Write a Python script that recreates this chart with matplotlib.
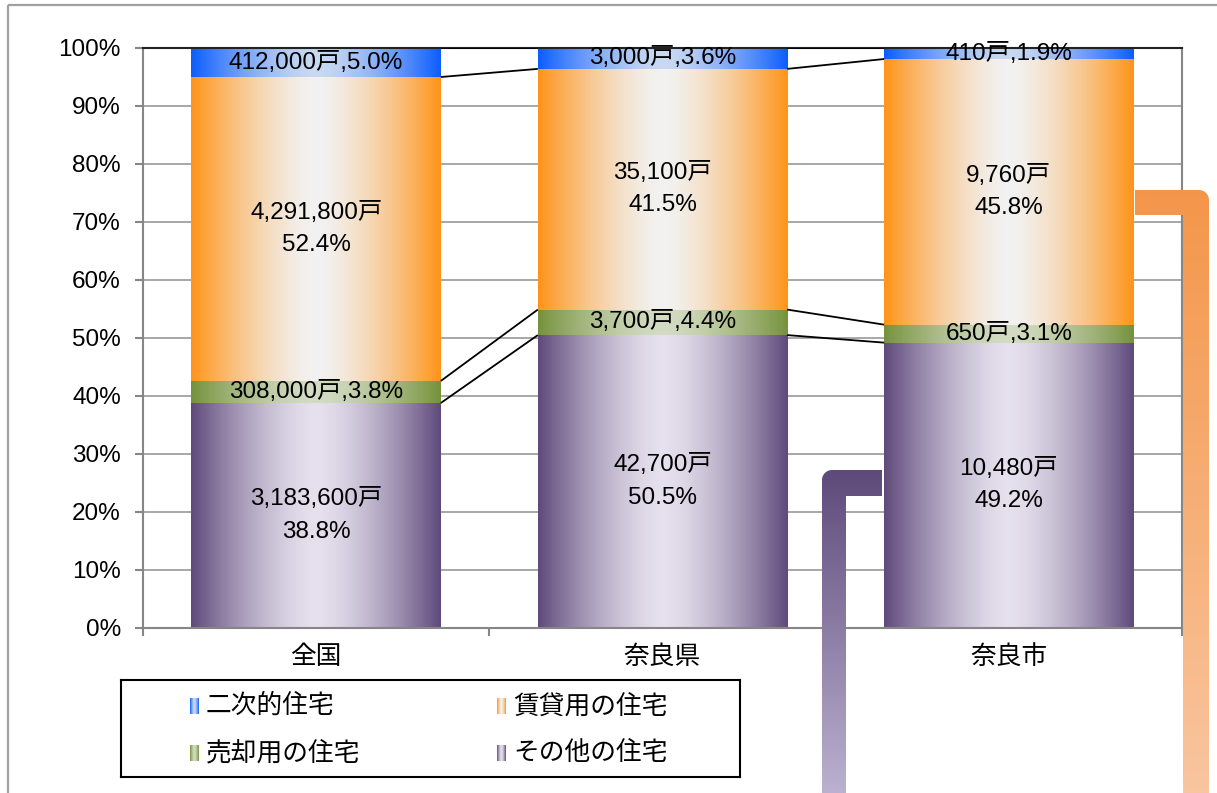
import numpy as np
import matplotlib.pyplot as plt
from matplotlib.path import Path
from matplotlib.patches import PathPatch, Rectangle
from matplotlib.colors import to_rgb

plt.rcParams['font.family'] = ['Liberation Sans', 'Noto Sans CJK JP']
plt.rcParams['font.size'] = 17.5

# data (stacked bottom -> top)
regions = ['全国', '奈良県', '奈良市']
other_units = [3183600, 42700, 10480]
other_pct = [38.8, 50.5, 49.2]
sale_units = [308000, 3700, 650]
sale_pct = [3.8, 4.4, 3.1]
rent_units = [4291800, 35100, 9760]
rent_pct = [52.4, 41.5, 45.8]
second_units = [412000, 3000, 410]
second_pct = [5.0, 3.6, 1.9]

series_names = ['その他の住宅', '売却用の住宅', '賃貸用の住宅', '二次的住宅']
series_units = [other_units, sale_units, rent_units, second_units]
series_pct = [other_pct, sale_pct, rent_pct, second_pct]
two_line = [True, False, True, False]
# (edge colour, centre colour) of the horizontal gradient fill
series_cols = [('#5f4a7b', '#e6e1ee'),
               ('#76923c', '#d3dcc3'),
               ('#ff9418', '#f2f2f2'),
               ('#0c5dff', '#c9d9f1')]


def hgrad(edge, center, n=256, p=1.5):
    u = np.linspace(0, 1, n)
    d = np.abs(2 * u - 1) ** p
    e, c = np.array(to_rgb(edge)), np.array(to_rgb(center))
    return (c + (e - c) * d[:, None])[None, :, :]


def vgrad(top, bottom, n=256):
    t = np.linspace(0, 1, n)[:, None]
    a, b = np.array(to_rgb(top)), np.array(to_rgb(bottom))
    return (a + (b - a) * t)[:, None, :]


W, H = 1217, 793
fig = plt.figure(figsize=(W / 100, H / 100), dpi=100)
ax = fig.add_axes([143 / W, 1 - 628 / H, (1182 - 143) / W, (628 - 48) / H])

w = 0.72
x = np.arange(len(regions))
bottoms = np.zeros(len(regions))
tops = []
for units, pct, (edge, center), tl in zip(series_units, series_pct, series_cols, two_line):
    img = hgrad(edge, center)
    for i in x:
        b, h = bottoms[i], pct[i]
        ax.imshow(img, extent=(i - w / 2, i + w / 2, b, b + h), aspect='auto',
                  interpolation='bilinear', zorder=2)
        sep = '\n' if tl else ','
        ax.text(i, b + h / 2, f'{units[i]:,}戸{sep}{pct[i]:.1f}%', ha='center', va='center',
                linespacing=1.6, zorder=4)
    bottoms = bottoms + np.array(pct)
    tops.append(bottoms.copy())

# series lines between neighbouring bars
for lvl in tops:
    for i in range(len(regions) - 1):
        ax.plot([i + w / 2, i + 1 - w / 2], [lvl[i], lvl[i + 1]], color='black', lw=1.3,
                zorder=3, solid_capstyle='butt')

ax.set_xlim(-0.5, len(regions) - 0.5)
ax.set_ylim(0, 100)
ax.set_yticks(np.arange(0, 101, 10))
ax.set_yticklabels([f'{v}%' for v in range(0, 101, 10)])
ax.set_xticks(x)
ax.set_xticklabels(regions, fontsize=18.5)
ax.set_xticks(np.arange(-0.5, len(regions), 1), minor=True)
ax.tick_params(axis='x', which='major', length=0, pad=12)
ax.tick_params(axis='x', which='minor', length=6, width=1.5, color='#868686')
ax.tick_params(axis='y', length=6, width=1.5, color='#868686', pad=10)
ax.grid(axis='y', color='#a0a0a0', lw=1.3)
ax.set_axisbelow(True)
for s in ['left', 'bottom', 'right']:
    ax.spines[s].set_color('#868686')
    ax.spines[s].set_linewidth(1.5)
ax.spines['top'].set_color('#222222')
ax.spines['top'].set_linewidth(1.5)

# legend box
lax = fig.add_axes([121 / W, 1 - 777 / H, (740 - 121) / W, (777 - 680) / H])
lax.set_xticks([])
lax.set_yticks([])
for s in lax.spines.values():
    s.set_color('black')
    s.set_linewidth(1.5)
leg_order = [3, 2, 1, 0]
leg_pos = [(69, 26), (376, 26), (69, 73), (376, 73)]
for k, (lx, ly) in zip(leg_order, leg_pos):
    edge, center = series_cols[k]
    lax.imshow(hgrad(edge, center), extent=(lx, lx + 9, ly + 8, ly - 8), aspect='auto',
               interpolation='bilinear')
    lax.text(lx + 16, ly, series_names[k], ha='left', va='center', fontsize=18.5)
lax.set_xlim(0, 619)
lax.set_ylim(97, 0)

# frame and decorative brackets
ov = fig.add_axes([0, 0, 1, 1], zorder=10)
ov.axis('off')
ov.patch.set_alpha(0)
ov.add_patch(Rectangle((8, 5), 1400, 1000, fill=False, ec='#a0a0a0', lw=1.6))


def bracket(pts, corner, r, top_col, bot_col, y0, y1, x0, x1):
    cx, cy, a0 = corner
    ang = np.linspace(a0, a0 + np.pi / 2, 12)
    arc = np.column_stack([cx + r * np.cos(ang), cy + r * np.sin(ang)])
    verts = np.vstack([pts[0], arc, pts[1:]])
    path = Path(np.vstack([verts, verts[:1]]), closed=True)
    clip = PathPatch(path, transform=ov.transData, fc='none', ec='none')
    ov.add_patch(clip)
    im = ov.imshow(vgrad(top_col, bot_col), extent=(x0, x1, y1, y0), aspect='auto',
                   interpolation='bilinear')
    im.set_clip_path(clip)


r = 10
bracket(np.array([[822, 800], [882, 470], [882, 496], [846, 496], [846, 800]]),
        (822 + r, 470 + r, np.pi), r, '#5e4a7a', '#bdb3d2', 470, 800, 822, 882)
bracket(np.array([[1135, 190], [1209, 800], [1183, 800], [1183, 215], [1135, 215]]),
        (1209 - r, 190 + r, -np.pi / 2), r, '#f4964a', '#f9c6a0', 190, 800, 1135, 1209)
ov.set_xlim(0, W)
ov.set_ylim(H, 0)

fig.savefig('out.png', dpi=100)
